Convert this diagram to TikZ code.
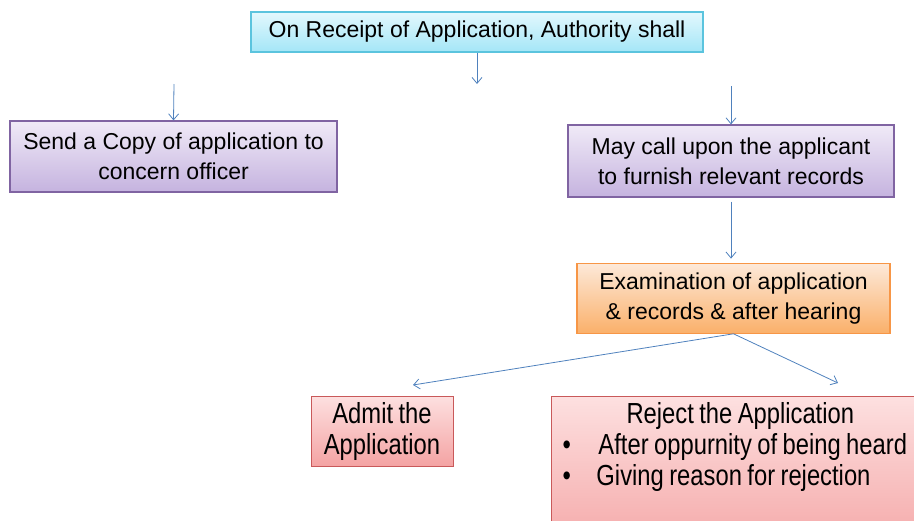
\documentclass[tikz,border=0pt]{standalone}
\usepackage{fontspec}
\setmainfont{Liberation Sans}
\newfontfamily\narrowfont{Liberation Sans}[FakeStretch=0.82, WordSpace=0.82]
\usetikzlibrary{arrows.meta,positioning}
\definecolor{cyantop}{HTML}{E3F8FD}
\definecolor{cyanbot}{HTML}{A4E6F7}
\definecolor{cyanline}{HTML}{5BC4DE}
\definecolor{purpletop}{HTML}{F0EAF7}
\definecolor{purplebot}{HTML}{C5B3DF}
\definecolor{purpleline}{HTML}{8064A2}
\definecolor{orangetop}{HTML}{FDE9D9}
\definecolor{orangebot}{HTML}{FAB06A}
\definecolor{orangeline}{HTML}{F79646}
\definecolor{redtop}{HTML}{FDE0E0}
\definecolor{redbot}{HTML}{F4A3A3}
\definecolor{redline}{HTML}{C9595A}
\definecolor{linkblue}{HTML}{4F81BD}
\tikzset{
  basic/.style  = {draw, line width=1.2pt, rectangle, align=center, inner sep=0pt,
                   font=\fontsize{23}{30}\selectfont},
  cyanbox/.style   = {basic, draw=cyanline, top color=cyantop, bottom color=cyanbot},
  purplebox/.style = {basic, draw=purpleline, top color=purpletop, bottom color=purplebot},
  orangebox/.style = {basic, draw=orangeline, top color=orangetop, bottom color=orangebot},
  redbox/.style    = {basic, draw=redline, line width=1pt, top color=redtop, bottom color=redbot,
                   font=\narrowfont\fontsize{29}{31}\selectfont},
  link/.style   = {->, draw=linkblue, line width=0.8pt}
}

\begin{document}
\begin{tikzpicture}[x=1pt, y=1pt,
  >={Straight Barb[length=6pt,width=10pt]}]
\useasboundingbox (0,0) rectangle (914,-520);
\clip (0,0) rectangle (914,-520);

% authority on receipt
\node[cyanbox, minimum width=452pt, minimum height=40pt] (auth) at (477,-32)
  {On Receipt of Application, Authority shall};

% first level
\node[purplebox, minimum width=327pt, minimum height=71pt] (send) at (173.5,-156.5)
  {Send a Copy of application to\\ concern officer};
\node[purplebox, minimum width=326pt, minimum height=72pt] (call) at (731,-161)
  {May call upon the applicant\\ to furnish relevant records};

% examination
\node[orangebox, below=65pt of call, xshift=2.5pt, minimum width=313pt, minimum height=70pt] (exam)
  {Examination of application\\ \& records \& after hearing};

% outcome
\node[redbox, minimum width=142pt, minimum height=70pt] (admit) at (382,-431)
  {Admit the\\ Application};
\node[redbox, anchor=north west, text width=400pt, align=flush left, inner ysep=6pt] (reject) at (551,-396)
  {\hspace*{75pt}Reject the Application\\
   \makebox[47pt][l]{\hspace*{11pt}\textbullet}After oppurnity of being heard\\
   \makebox[45pt][l]{\hspace*{11pt}\textbullet}Giving reason for rejection\rule[-70pt]{0pt}{0pt}};

\coordinate (authend) at (477,-84);
\coordinate (sendstart) at (174,-84);
\coordinate (callstart) at (731,-86);
\coordinate (admittip) at (413,-385);
\coordinate (rejecttip) at (838,-383);

\draw[link] (auth.south) -- (authend);
\draw[link] (sendstart) -- (send.north);
\draw[link] (callstart) -- (call.north);
\draw[link, shorten <=4pt, shorten >=4pt] (call.south) -- (call.south |- exam.north);
\draw[link] (exam.south) -- (admittip);
\draw[link] (exam.south) -- (rejecttip);
\end{tikzpicture}
\end{document}
